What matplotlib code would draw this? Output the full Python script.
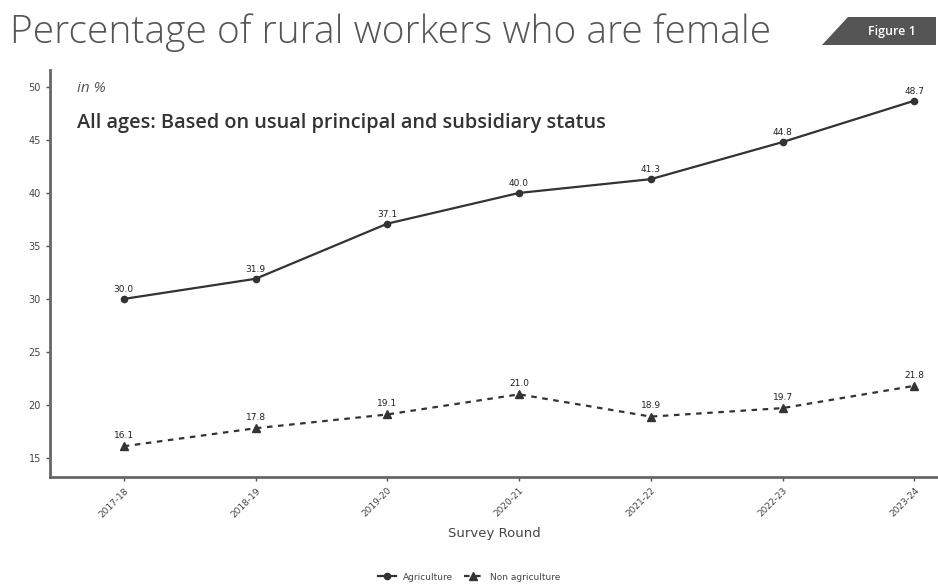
import matplotlib.pyplot as plt
from matplotlib.patches import Polygon

rounds = ["2017-18", "2018-19", "2019-20", "2020-21", "2021-22", "2022-23", "2023-24"]
agriculture = [30.0, 31.9, 37.1, 40.0, 41.3, 44.8, 48.7]
non_agriculture = [16.1, 17.8, 19.1, 21.0, 18.9, 19.7, 21.8]
y_ticks = [15, 20, 25, 30, 35, 40, 45, 50]

fig = plt.figure(figsize=(9.38, 5.87), dpi=100)
ax = fig.add_axes([50 / 938, 1 - 477 / 587, (938 - 50) / 938, (477 - 70) / 587])

x = list(range(len(rounds)))
line_col = "#333333"
ax.plot(x, agriculture, color=line_col, lw=1.6, marker="o", ms=4.5, label="Agriculture")
ax.plot(x, non_agriculture, color=line_col, lw=1.6, ls=(0, (2.5, 2.5)), marker="^", ms=6,
        label="Non agriculture")

for xi, v in zip(x, agriculture):
    ax.annotate(f"{v:.1f}", (xi, v), xytext=(0, 5), textcoords="offset points",
                ha="center", fontsize=6.5, color="#222222")
for xi, v in zip(x, non_agriculture):
    ax.annotate(f"{v:.1f}", (xi, v), xytext=(0, 6), textcoords="offset points",
                ha="center", fontsize=6.5, color="#222222")

ax.set_xlim(-0.56, 6.18)
ax.set_ylim(13.2, 51.6)
ax.set_yticks(y_ticks)
ax.set_yticklabels([str(t) for t in y_ticks], fontsize=7, color="#444444")
ax.set_xticks(x)
ax.set_xticklabels(rounds, rotation=45, ha="right", rotation_mode="anchor",
                   fontsize=6.5, color="#444444")
ax.tick_params(length=3, width=1, color="#555555")
ax.set_xlabel("Survey Round", fontsize=9.5, color="#444444", labelpad=6)

for side in ["top", "right"]:
    ax.spines[side].set_visible(False)
for side in ["left", "bottom"]:
    ax.spines[side].set_linewidth(2)
    ax.spines[side].set_color("#666666")

ax.text(0.03, 0.955, "in %", transform=ax.transAxes, fontsize=11, style="italic",
        color="#555555", fontfamily="Open Sans", va="center")
ax.text(0.03, 0.87, "All ages: Based on usual principal and subsidiary status",
        transform=ax.transAxes, fontsize=14.3, color="#333333", va="center",
        fontfamily="Open Sans", fontweight="semibold")

fig.legend(loc="center", bbox_to_anchor=(0.5, 1 - 577 / 587), ncol=2, frameon=False,
           fontsize=6.5, handlelength=2, columnspacing=1.2, labelcolor="#444444")

fig.text(10 / 938, 1 - 33 / 587, "Percentage of rural workers who are female",
         fontsize=28, color="#555555", fontfamily="Open Sans", fontweight="light",
         va="center", ha="left")

# figure tag
tag = Polygon([(822 / 938, 1 - 45 / 587), (848 / 938, 1 - 17 / 587),
               (936 / 938, 1 - 17 / 587), (936 / 938, 1 - 45 / 587)],
              closed=True, transform=fig.transFigure, facecolor="#555555", edgecolor="none")
fig.patches.append(tag)
fig.text(892 / 938, 1 - 31 / 587, "Figure 1", fontsize=9, color="white",
         ha="center", va="center", fontfamily="Open Sans", fontweight="semibold")

fig.savefig("out.png", dpi=100, facecolor="white")
